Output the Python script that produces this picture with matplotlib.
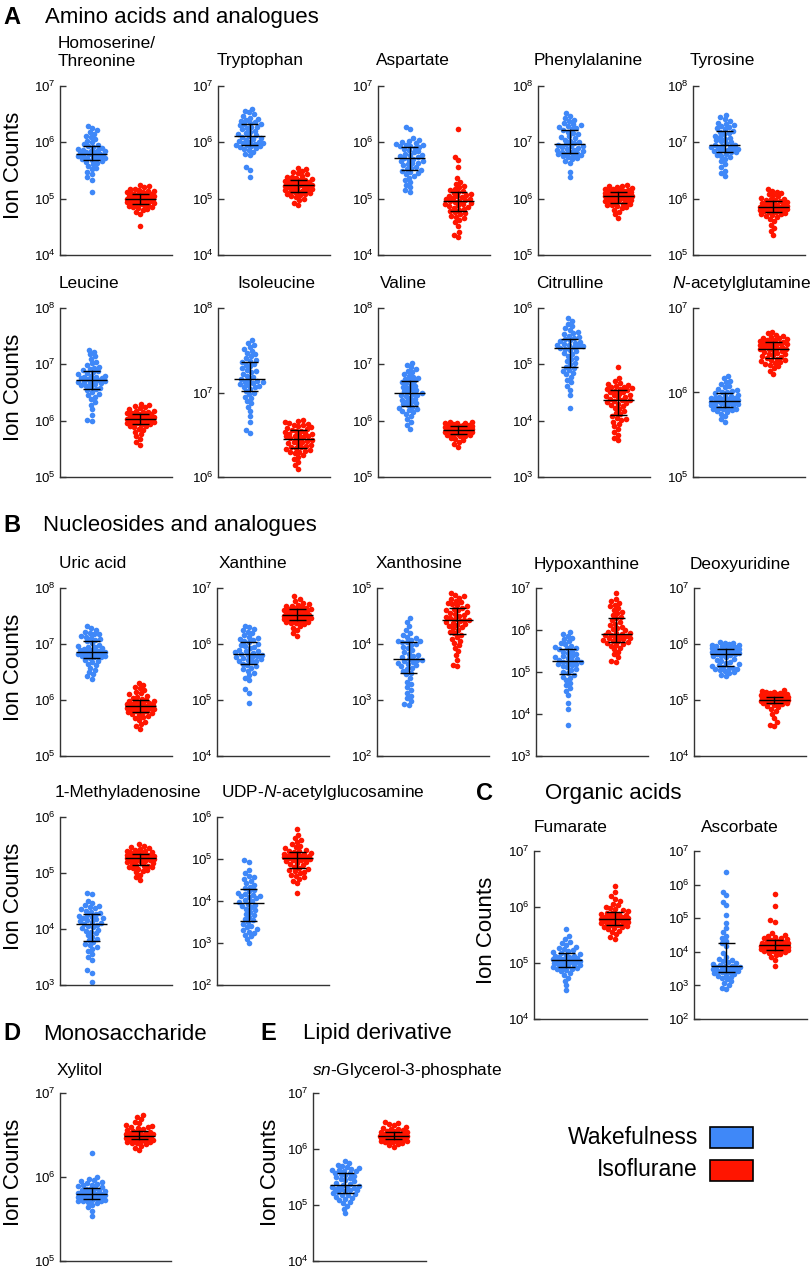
import numpy as np
import matplotlib
matplotlib.use("Agg")
import matplotlib.pyplot as plt
from matplotlib.patches import Rectangle
from matplotlib.ticker import NullLocator, FixedLocator, FuncFormatter

# ---------------- DATA (log10 ion counts) ----------------
homoserine_wake = [5.12, 5.34, 5.38, 5.43, 5.47, 5.52, 5.55, 5.58, 5.61, 5.63, 5.65, 5.67,
                   5.69, 5.70, 5.71, 5.72, 5.73, 5.74, 5.75, 5.76, 5.77, 5.77, 5.78, 5.79,
                   5.80, 5.81, 5.82, 5.83, 5.84, 5.85, 5.86, 5.87, 5.89, 5.90, 5.92, 5.93,
                   5.95, 5.97, 6.00, 6.03, 6.06, 6.09, 6.12, 6.15, 6.18, 6.22, 6.25, 6.29]
homoserine_iso = [4.52, 4.73, 4.77, 4.80, 4.82, 4.84, 4.85, 4.86, 4.87, 4.88, 4.89, 4.90,
                  4.91, 4.92, 4.93, 4.94, 4.95, 4.95, 4.96, 4.97, 4.97, 4.98, 4.99, 4.99,
                  5.00, 5.01, 5.02, 5.02, 5.03, 5.04, 5.05, 5.05, 5.06, 5.07, 5.08, 5.08,
                  5.09, 5.10, 5.11, 5.12, 5.13, 5.14, 5.15, 5.17, 5.18, 5.20, 5.22, 5.24]
tryptophan_wake = [5.38, 5.51, 5.57, 5.77, 5.80, 5.83, 5.86, 5.88, 5.90, 5.92, 5.93, 5.94,
                   5.95, 5.96, 5.97, 5.98, 5.99, 6.00, 6.01, 6.03, 6.05, 6.06, 6.08, 6.10,
                   6.11, 6.13, 6.15, 6.17, 6.19, 6.21, 6.23, 6.25, 6.27, 6.28, 6.30, 6.32,
                   6.33, 6.35, 6.36, 6.38, 6.40, 6.42, 6.44, 6.47, 6.50, 6.53, 6.56, 6.60]
tryptophan_iso = [4.89, 4.93, 4.97, 5.00, 5.03, 5.05, 5.07, 5.08, 5.09, 5.10, 5.11, 5.11,
                  5.12, 5.14, 5.15, 5.16, 5.17, 5.18, 5.19, 5.20, 5.21, 5.22, 5.23, 5.24,
                  5.24, 5.25, 5.26, 5.27, 5.27, 5.28, 5.29, 5.30, 5.31, 5.31, 5.32, 5.33,
                  5.34, 5.35, 5.36, 5.38, 5.39, 5.41, 5.43, 5.45, 5.47, 5.50, 5.52, 5.55]
aspartate_wake = [5.11, 5.15, 5.20, 5.25, 5.29, 5.33, 5.37, 5.40, 5.43, 5.45, 5.47, 5.49,
                  5.51, 5.53, 5.55, 5.57, 5.59, 5.61, 5.63, 5.64, 5.66, 5.67, 5.69, 5.71,
                  5.72, 5.74, 5.75, 5.77, 5.78, 5.80, 5.82, 5.84, 5.86, 5.88, 5.90, 5.92,
                  5.93, 5.94, 5.95, 5.96, 5.97, 5.98, 6.00, 6.02, 6.04, 6.07, 6.23, 6.28]
aspartate_iso = [4.32, 4.35, 4.40, 4.52, 4.58, 4.62, 4.65, 4.68, 4.70, 4.72, 4.74, 4.76,
                 4.78, 4.80, 4.82, 4.84, 4.85, 4.87, 4.88, 4.90, 4.91, 4.92, 4.94, 4.95,
                 4.96, 4.97, 4.99, 5.00, 5.01, 5.03, 5.04, 5.05, 5.07, 5.08, 5.10, 5.12,
                 5.14, 5.16, 5.18, 5.20, 5.23, 5.26, 5.30, 5.36, 5.57, 5.68, 5.74, 6.23]
phenylalanine_wake = [6.39, 6.48, 6.63, 6.67, 6.70, 6.72, 6.74, 6.75, 6.77, 6.78, 6.79, 6.80,
                      6.81, 6.82, 6.83, 6.84, 6.86, 6.87, 6.88, 6.90, 6.91, 6.93, 6.94, 6.96,
                      6.97, 6.99, 7.01, 7.03, 7.05, 7.07, 7.09, 7.11, 7.14, 7.16, 7.19, 7.22,
                      7.24, 7.26, 7.27, 7.29, 7.30, 7.32, 7.34, 7.37, 7.40, 7.43, 7.47, 7.52]
phenylalanine_iso = [5.66, 5.72, 5.76, 5.80, 5.83, 5.85, 5.87, 5.88, 5.89, 5.90, 5.91, 5.92,
                     5.93, 5.95, 5.96, 5.97, 5.98, 5.99, 6.00, 6.01, 6.02, 6.03, 6.03, 6.04,
                     6.05, 6.05, 6.06, 6.06, 6.07, 6.07, 6.08, 6.08, 6.09, 6.09, 6.10, 6.11,
                     6.12, 6.13, 6.14, 6.15, 6.16, 6.17, 6.18, 6.19, 6.20, 6.22, 6.23, 6.25]
tyrosine_wake = [6.40, 6.45, 6.50, 6.56, 6.62, 6.67, 6.71, 6.74, 6.76, 6.78, 6.80, 6.82,
                 6.83, 6.84, 6.85, 6.86, 6.87, 6.88, 6.89, 6.90, 6.91, 6.92, 6.94, 6.95,
                 6.96, 6.98, 7.00, 7.02, 7.04, 7.06, 7.08, 7.10, 7.12, 7.14, 7.16, 7.19,
                 7.21, 7.23, 7.25, 7.27, 7.29, 7.31, 7.33, 7.35, 7.38, 7.41, 7.45, 7.49]
tyrosine_iso = [5.35, 5.42, 5.48, 5.54, 5.60, 5.64, 5.67, 5.69, 5.71, 5.72, 5.73, 5.75,
                5.76, 5.77, 5.78, 5.79, 5.80, 5.80, 5.81, 5.82, 5.82, 5.83, 5.83, 5.84,
                5.85, 5.86, 5.86, 5.87, 5.88, 5.89, 5.90, 5.91, 5.92, 5.93, 5.94, 5.96,
                5.97, 5.98, 5.99, 6.00, 6.02, 6.04, 6.06, 6.08, 6.10, 6.12, 6.14, 6.17]
leucine_wake = [5.99, 6.02, 6.10, 6.20, 6.28, 6.33, 6.38, 6.42, 6.45, 6.48, 6.51, 6.54,
                6.56, 6.58, 6.60, 6.62, 6.63, 6.65, 6.66, 6.67, 6.68, 6.69, 6.71, 6.72,
                6.73, 6.74, 6.75, 6.76, 6.77, 6.78, 6.79, 6.80, 6.82, 6.84, 6.86, 6.88,
                6.90, 6.92, 6.94, 6.96, 6.99, 7.02, 7.05, 7.10, 7.14, 7.18, 7.22, 7.26]
leucine_iso = [5.57, 5.62, 5.67, 5.72, 5.76, 5.80, 5.83, 5.86, 5.88, 5.90, 5.91, 5.93,
               5.94, 5.95, 5.96, 5.97, 5.97, 5.98, 5.99, 5.99, 6.00, 6.01, 6.01, 6.02,
               6.03, 6.03, 6.04, 6.05, 6.06, 6.06, 6.07, 6.08, 6.09, 6.10, 6.11, 6.12,
               6.13, 6.14, 6.15, 6.16, 6.17, 6.18, 6.20, 6.22, 6.24, 6.26, 6.28, 6.30]
isoleucine_wake = [6.52, 6.56, 6.65, 6.72, 6.78, 6.83, 6.87, 6.90, 6.93, 6.95, 6.98, 7.00,
                   7.02, 7.04, 7.06, 7.07, 7.08, 7.09, 7.10, 7.11, 7.12, 7.13, 7.14, 7.15,
                   7.16, 7.18, 7.20, 7.22, 7.24, 7.25, 7.27, 7.29, 7.31, 7.33, 7.34, 7.36,
                   7.37, 7.39, 7.41, 7.43, 7.45, 7.47, 7.49, 7.51, 7.54, 7.56, 7.59, 7.62]
isoleucine_iso = [6.10, 6.14, 6.18, 6.21, 6.24, 6.26, 6.28, 6.29, 6.30, 6.31, 6.32, 6.33,
                  6.34, 6.35, 6.36, 6.37, 6.38, 6.39, 6.40, 6.41, 6.42, 6.43, 6.44, 6.45,
                  6.46, 6.47, 6.48, 6.48, 6.49, 6.50, 6.51, 6.51, 6.52, 6.53, 6.54, 6.55,
                  6.56, 6.57, 6.58, 6.59, 6.60, 6.61, 6.62, 6.63, 6.64, 6.65, 6.66, 6.67]
valine_wake = [5.85, 5.92, 5.98, 6.03, 6.08, 6.12, 6.15, 6.17, 6.19, 6.21, 6.23, 6.25,
               6.27, 6.29, 6.31, 6.33, 6.35, 6.37, 6.39, 6.41, 6.43, 6.45, 6.46, 6.48,
               6.49, 6.50, 6.52, 6.54, 6.56, 6.58, 6.60, 6.62, 6.64, 6.66, 6.68, 6.70,
               6.72, 6.74, 6.76, 6.78, 6.80, 6.83, 6.86, 6.89, 6.92, 6.95, 6.99, 7.03]
valine_iso = [5.53, 5.58, 5.62, 5.65, 5.68, 5.70, 5.72, 5.73, 5.74, 5.75, 5.76, 5.76,
              5.77, 5.78, 5.79, 5.79, 5.80, 5.81, 5.81, 5.82, 5.82, 5.83, 5.83, 5.84,
              5.84, 5.85, 5.85, 5.86, 5.86, 5.87, 5.87, 5.88, 5.88, 5.89, 5.89, 5.90,
              5.90, 5.91, 5.91, 5.92, 5.93, 5.93, 5.94, 5.95, 5.96, 5.96, 5.97, 5.98]
citrulline_wake = [4.23, 4.45, 4.55, 4.62, 4.68, 4.73, 4.78, 4.82, 4.85, 4.88, 4.90, 4.93,
                   4.96, 5.00, 5.03, 5.06, 5.09, 5.12, 5.15, 5.18, 5.20, 5.23, 5.25, 5.28,
                   5.29, 5.30, 5.32, 5.33, 5.34, 5.35, 5.36, 5.38, 5.39, 5.41, 5.43, 5.45,
                   5.47, 5.49, 5.51, 5.53, 5.55, 5.58, 5.61, 5.64, 5.68, 5.72, 5.77, 5.82]
citrulline_iso = [3.65, 3.70, 3.75, 3.80, 3.85, 3.90, 3.94, 3.98, 4.01, 4.03, 4.05, 4.08,
                  4.11, 4.14, 4.17, 4.20, 4.23, 4.26, 4.28, 4.30, 4.32, 4.33, 4.35, 4.36,
                  4.37, 4.39, 4.40, 4.42, 4.43, 4.45, 4.46, 4.48, 4.50, 4.51, 4.53, 4.55,
                  4.56, 4.57, 4.58, 4.59, 4.60, 4.62, 4.63, 4.65, 4.67, 4.70, 4.75, 4.95]
acetylglutamine_wake = [5.65, 5.69, 5.72, 5.75, 5.77, 5.78, 5.79, 5.80, 5.80, 5.81, 5.82, 5.82,
                        5.83, 5.84, 5.85, 5.85, 5.86, 5.87, 5.87, 5.88, 5.88, 5.89, 5.89, 5.90,
                        5.90, 5.91, 5.92, 5.92, 5.93, 5.94, 5.94, 5.95, 5.96, 5.96, 5.97, 5.99,
                        6.00, 6.01, 6.02, 6.03, 6.04, 6.06, 6.08, 6.10, 6.12, 6.14, 6.17, 6.20]
acetylglutamine_iso = [6.22, 6.26, 6.29, 6.31, 6.33, 6.34, 6.35, 6.36, 6.37, 6.38, 6.39, 6.40,
                       6.41, 6.42, 6.43, 6.44, 6.45, 6.46, 6.47, 6.48, 6.49, 6.50, 6.51, 6.52,
                       6.52, 6.53, 6.54, 6.54, 6.55, 6.56, 6.56, 6.57, 6.57, 6.58, 6.59, 6.60,
                       6.60, 6.61, 6.62, 6.62, 6.63, 6.64, 6.65, 6.66, 6.67, 6.68, 6.70, 6.72]
uric_wake = [6.38, 6.42, 6.46, 6.50, 6.54, 6.58, 6.62, 6.65, 6.68, 6.70, 6.72, 6.75,
             6.76, 6.77, 6.78, 6.79, 6.80, 6.81, 6.82, 6.83, 6.84, 6.84, 6.85, 6.86,
             6.87, 6.88, 6.89, 6.90, 6.91, 6.92, 6.94, 6.95, 6.97, 6.99, 7.01, 7.05,
             7.07, 7.09, 7.11, 7.13, 7.15, 7.17, 7.18, 7.20, 7.22, 7.25, 7.28, 7.33]
uric_iso = [5.48, 5.53, 5.57, 5.61, 5.65, 5.68, 5.70, 5.72, 5.74, 5.75, 5.77, 5.78,
            5.79, 5.80, 5.81, 5.82, 5.83, 5.84, 5.85, 5.85, 5.86, 5.87, 5.87, 5.88,
            5.89, 5.90, 5.91, 5.92, 5.93, 5.94, 5.95, 5.96, 5.97, 5.98, 5.99, 6.00,
            6.02, 6.04, 6.06, 6.08, 6.10, 6.12, 6.15, 6.18, 6.21, 6.24, 6.27, 6.31]
xanthine_wake = [4.95, 5.13, 5.19, 5.35, 5.40, 5.44, 5.48, 5.52, 5.55, 5.58, 5.60, 5.63,
                 5.65, 5.67, 5.69, 5.70, 5.72, 5.73, 5.75, 5.76, 5.77, 5.78, 5.80, 5.81,
                 5.82, 5.84, 5.85, 5.87, 5.88, 5.90, 5.92, 5.94, 5.96, 5.98, 6.00, 6.03,
                 6.05, 6.07, 6.09, 6.11, 6.13, 6.16, 6.19, 6.22, 6.25, 6.27, 6.30, 6.33]
xanthine_iso = [6.15, 6.20, 6.25, 6.29, 6.32, 6.35, 6.37, 6.38, 6.39, 6.40, 6.41, 6.42,
                6.43, 6.44, 6.45, 6.46, 6.46, 6.47, 6.48, 6.48, 6.49, 6.50, 6.50, 6.51,
                6.52, 6.53, 6.54, 6.54, 6.55, 6.56, 6.57, 6.58, 6.59, 6.60, 6.61, 6.62,
                6.63, 6.64, 6.65, 6.66, 6.67, 6.68, 6.70, 6.72, 6.74, 6.77, 6.81, 6.85]
xanthosine_wake = [2.91, 2.93, 2.98, 3.03, 3.08, 3.13, 3.18, 3.23, 3.28, 3.33, 3.40, 3.46,
                   3.49, 3.52, 3.55, 3.58, 3.60, 3.62, 3.64, 3.66, 3.68, 3.69, 3.71, 3.72,
                   3.74, 3.76, 3.78, 3.80, 3.83, 3.86, 3.89, 3.92, 3.95, 3.98, 4.00, 4.03,
                   4.04, 4.05, 4.06, 4.08, 4.10, 4.13, 4.16, 4.20, 4.25, 4.32, 4.40, 4.47]
xanthosine_iso = [3.60, 3.63, 3.72, 3.80, 3.87, 3.93, 3.98, 4.02, 4.06, 4.09, 4.12, 4.16,
                  4.19, 4.22, 4.25, 4.28, 4.30, 4.32, 4.34, 4.36, 4.38, 4.39, 4.41, 4.42,
                  4.43, 4.45, 4.46, 4.48, 4.50, 4.52, 4.54, 4.56, 4.58, 4.60, 4.61, 4.63,
                  4.65, 4.67, 4.69, 4.71, 4.73, 4.75, 4.77, 4.80, 4.83, 4.85, 4.88, 4.91]
hypoxanthine_wake = [3.75, 4.11, 4.27, 4.45, 4.55, 4.62, 4.68, 4.74, 4.80, 4.85, 4.89, 4.93,
                     4.97, 5.01, 5.05, 5.08, 5.11, 5.14, 5.16, 5.18, 5.20, 5.22, 5.23, 5.25,
                     5.27, 5.29, 5.31, 5.33, 5.35, 5.37, 5.39, 5.42, 5.45, 5.48, 5.51, 5.54,
                     5.56, 5.58, 5.60, 5.63, 5.66, 5.70, 5.74, 5.78, 5.82, 5.86, 5.91, 5.96]
hypoxanthine_iso = [5.25, 5.27, 5.35, 5.42, 5.48, 5.54, 5.58, 5.62, 5.65, 5.67, 5.69, 5.71,
                    5.73, 5.75, 5.77, 5.78, 5.80, 5.81, 5.83, 5.84, 5.86, 5.87, 5.88, 5.90,
                    5.92, 5.94, 5.96, 5.99, 6.02, 6.05, 6.08, 6.11, 6.15, 6.19, 6.23, 6.28,
                    6.32, 6.36, 6.40, 6.44, 6.48, 6.52, 6.56, 6.60, 6.64, 6.68, 6.75, 6.87]
deoxyuridine_wake = [5.42, 5.45, 5.48, 5.50, 5.52, 5.54, 5.55, 5.56, 5.57, 5.58, 5.59, 5.60,
                     5.62, 5.64, 5.66, 5.68, 5.70, 5.72, 5.74, 5.76, 5.78, 5.79, 5.81, 5.82,
                     5.83, 5.84, 5.84, 5.85, 5.86, 5.86, 5.87, 5.88, 5.88, 5.89, 5.90, 5.91,
                     5.92, 5.93, 5.94, 5.95, 5.96, 5.97, 5.98, 5.99, 6.00, 6.01, 6.02, 6.04]
deoxyuridine_iso = [4.53, 4.56, 4.60, 4.68, 4.75, 4.80, 4.84, 4.87, 4.89, 4.91, 4.92, 4.94,
                    4.95, 4.96, 4.96, 4.97, 4.97, 4.98, 4.98, 4.99, 4.99, 5.00, 5.00, 5.00,
                    5.01, 5.01, 5.02, 5.02, 5.03, 5.03, 5.04, 5.04, 5.05, 5.05, 5.06, 5.06,
                    5.07, 5.08, 5.09, 5.09, 5.10, 5.11, 5.12, 5.13, 5.14, 5.15, 5.16, 5.18]
methyladenosine_wake = [3.05, 3.22, 3.26, 3.45, 3.50, 3.55, 3.60, 3.64, 3.68, 3.71, 3.74, 3.77,
                        3.80, 3.83, 3.86, 3.89, 3.92, 3.95, 3.97, 3.99, 4.01, 4.03, 4.05, 4.08,
                        4.09, 4.11, 4.13, 4.14, 4.16, 4.17, 4.19, 4.20, 4.22, 4.23, 4.25, 4.27,
                        4.29, 4.31, 4.33, 4.35, 4.37, 4.39, 4.41, 4.43, 4.46, 4.50, 4.63, 4.65]
methyladenosine_iso = [4.87, 4.92, 4.97, 5.01, 5.04, 5.06, 5.08, 5.09, 5.10, 5.11, 5.12, 5.13,
                       5.15, 5.16, 5.18, 5.19, 5.20, 5.21, 5.22, 5.23, 5.24, 5.24, 5.25, 5.26,
                       5.26, 5.27, 5.28, 5.28, 5.29, 5.30, 5.30, 5.31, 5.31, 5.32, 5.33, 5.34,
                       5.35, 5.36, 5.37, 5.38, 5.39, 5.40, 5.41, 5.43, 5.44, 5.46, 5.48, 5.51]
udpglcnac_wake = [3.00, 3.10, 3.16, 3.20, 3.24, 3.27, 3.30, 3.33, 3.37, 3.41, 3.45, 3.50,
                  3.54, 3.58, 3.62, 3.66, 3.70, 3.74, 3.78, 3.81, 3.85, 3.88, 3.91, 3.94,
                  3.97, 4.00, 4.03, 4.06, 4.09, 4.11, 4.13, 4.15, 4.17, 4.20, 4.23, 4.27,
                  4.30, 4.34, 4.38, 4.42, 4.47, 4.52, 4.56, 4.60, 4.66, 4.75, 4.93, 4.98]
udpglcnac_iso = [4.19, 4.42, 4.47, 4.52, 4.56, 4.60, 4.63, 4.66, 4.69, 4.71, 4.73, 4.76,
                 4.79, 4.82, 4.85, 4.88, 4.91, 4.93, 4.95, 4.97, 4.98, 4.99, 5.01, 5.02,
                 5.03, 5.04, 5.05, 5.06, 5.07, 5.08, 5.09, 5.10, 5.12, 5.13, 5.14, 5.16,
                 5.18, 5.20, 5.22, 5.25, 5.28, 5.32, 5.36, 5.40, 5.45, 5.50, 5.58, 5.72]
fumarate_wake = [4.51, 4.60, 4.68, 4.74, 4.78, 4.82, 4.85, 4.87, 4.89, 4.90, 4.91, 4.92,
                 4.93, 4.94, 4.96, 4.97, 4.98, 4.99, 5.00, 5.01, 5.02, 5.02, 5.03, 5.04,
                 5.05, 5.06, 5.07, 5.08, 5.09, 5.10, 5.11, 5.12, 5.13, 5.14, 5.16, 5.18,
                 5.19, 5.21, 5.23, 5.25, 5.27, 5.29, 5.32, 5.35, 5.38, 5.42, 5.48, 5.61]
fumarate_iso = [5.43, 5.47, 5.51, 5.55, 5.58, 5.60, 5.62, 5.64, 5.65, 5.66, 5.67, 5.68,
                5.69, 5.70, 5.71, 5.72, 5.73, 5.74, 5.75, 5.75, 5.76, 5.77, 5.77, 5.78,
                5.79, 5.80, 5.81, 5.82, 5.83, 5.84, 5.85, 5.86, 5.87, 5.88, 5.89, 5.90,
                5.92, 5.94, 5.96, 5.98, 6.00, 6.03, 6.06, 6.10, 6.14, 6.20, 6.27, 6.38]
ascorbate_wake = [2.88, 2.92, 3.00, 3.06, 3.12, 3.18, 3.22, 3.26, 3.29, 3.32, 3.35, 3.37,
                  3.39, 3.41, 3.43, 3.44, 3.46, 3.47, 3.48, 3.50, 3.51, 3.52, 3.54, 3.55,
                  3.57, 3.59, 3.61, 3.63, 3.66, 3.69, 3.72, 3.76, 3.80, 3.86, 3.95, 4.17,
                  4.25, 4.32, 4.40, 4.48, 4.58, 4.70, 4.85, 5.10, 5.39, 5.48, 5.68, 5.78, 6.38]
ascorbate_iso = [3.57, 3.75, 3.85, 3.90, 3.94, 3.97, 3.99, 4.01, 4.02, 4.03, 4.04, 4.05,
                 4.07, 4.08, 4.10, 4.11, 4.12, 4.13, 4.14, 4.15, 4.16, 4.17, 4.18, 4.20,
                 4.21, 4.22, 4.23, 4.24, 4.25, 4.26, 4.27, 4.28, 4.30, 4.31, 4.33, 4.36,
                 4.38, 4.40, 4.42, 4.44, 4.46, 4.50, 4.55, 4.90, 4.95, 5.37, 5.71]
xylitol_wake = [5.54, 5.60, 5.64, 5.67, 5.69, 5.70, 5.71, 5.72, 5.72, 5.73, 5.73, 5.74,
                5.74, 5.75, 5.75, 5.76, 5.76, 5.77, 5.77, 5.77, 5.78, 5.78, 5.79, 5.79,
                5.80, 5.80, 5.81, 5.81, 5.82, 5.83, 5.83, 5.84, 5.85, 5.86, 5.86, 5.87,
                5.88, 5.89, 5.90, 5.91, 5.92, 5.93, 5.94, 5.95, 5.96, 5.98, 6.00, 6.28]
xylitol_iso = [6.32, 6.35, 6.37, 6.39, 6.40, 6.41, 6.42, 6.42, 6.43, 6.43, 6.44, 6.44,
               6.45, 6.45, 6.45, 6.46, 6.46, 6.46, 6.47, 6.47, 6.47, 6.48, 6.48, 6.48,
               6.49, 6.49, 6.50, 6.50, 6.51, 6.51, 6.52, 6.52, 6.53, 6.53, 6.54, 6.55,
               6.56, 6.57, 6.58, 6.59, 6.60, 6.61, 6.62, 6.64, 6.66, 6.69, 6.72, 6.74]
g3p_wake = [4.85, 4.93, 4.99, 5.03, 5.06, 5.09, 5.11, 5.13, 5.15, 5.17, 5.18, 5.20,
            5.22, 5.23, 5.25, 5.26, 5.27, 5.28, 5.29, 5.30, 5.31, 5.32, 5.33, 5.34,
            5.36, 5.38, 5.40, 5.42, 5.44, 5.46, 5.48, 5.50, 5.52, 5.53, 5.55, 5.57,
            5.58, 5.60, 5.61, 5.62, 5.63, 5.65, 5.66, 5.68, 5.70, 5.72, 5.75, 5.78]
g3p_iso = [6.04, 6.07, 6.09, 6.11, 6.12, 6.13, 6.14, 6.15, 6.15, 6.16, 6.16, 6.17,
           6.18, 6.18, 6.19, 6.19, 6.20, 6.20, 6.21, 6.21, 6.21, 6.22, 6.22, 6.22,
           6.23, 6.23, 6.24, 6.24, 6.25, 6.25, 6.26, 6.26, 6.27, 6.28, 6.29, 6.30,
           6.31, 6.32, 6.33, 6.34, 6.35, 6.36, 6.38, 6.40, 6.42, 6.44, 6.46, 6.49]

panel_titles = ["Homoserine/\nThreonine", "Tryptophan", "Aspartate", "Phenylalanine", "Tyrosine",
                "Leucine", "Isoleucine", "Valine", "Citrulline", r"$\mathit{N}$-acetylglutamine",
                "Uric acid", "Xanthine", "Xanthosine", "Hypoxanthine", "Deoxyuridine",
                "1-Methyladenosine", r"UDP-$\mathit{N}$-acetylglucosamine",
                "Fumarate", "Ascorbate", "Xylitol", r"$\mathit{sn}$-Glycerol-3-phosphate"]
# y-axis decades (low, high exponent)
decades = [(4, 7), (4, 7), (4, 7), (5, 8), (5, 8),
           (5, 8), (6, 8), (5, 8), (3, 6), (5, 7),
           (5, 8), (4, 7), (2, 5), (3, 7), (4, 7),
           (3, 6), (2, 6),
           (4, 7), (2, 7), (5, 7), (4, 7)]
wake_series = [homoserine_wake, tryptophan_wake, aspartate_wake, phenylalanine_wake, tyrosine_wake,
               leucine_wake, isoleucine_wake, valine_wake, citrulline_wake, acetylglutamine_wake,
               uric_wake, xanthine_wake, xanthosine_wake, hypoxanthine_wake, deoxyuridine_wake,
               methyladenosine_wake, udpglcnac_wake, fumarate_wake, ascorbate_wake,
               xylitol_wake, g3p_wake]
iso_series = [homoserine_iso, tryptophan_iso, aspartate_iso, phenylalanine_iso, tyrosine_iso,
              leucine_iso, isoleucine_iso, valine_iso, citrulline_iso, acetylglutamine_iso,
              uric_iso, xanthine_iso, xanthosine_iso, hypoxanthine_iso, deoxyuridine_iso,
              methyladenosine_iso, udpglcnac_iso, fumarate_iso, ascorbate_iso,
              xylitol_iso, g3p_iso]
group_labels = ["Wakefulness", "Isoflurane"]
section_letters = ["A", "B", "C", "D", "E"]
section_titles = ["Amino acids and analogues", "Nucleosides and analogues", "Organic acids",
                  "Monosaccharide", "Lipid derivative"]

# ---------------- STYLE / LAYOUT ----------------
BLUE = "#3f88f8"
RED = "#ff1500"
W, H = 810, 1271
plt.rcParams["font.family"] = ["Liberation Sans", "DejaVu Sans"]
plt.rcParams["mathtext.fontset"] = "custom"
plt.rcParams["mathtext.rm"] = "Liberation Sans"
plt.rcParams["mathtext.it"] = "Liberation Sans:italic"
plt.rcParams["mathtext.bf"] = "Liberation Sans:bold"

fig = plt.figure(figsize=(W / 100, H / 100), dpi=100)

def fx(px):
    return px / W

def fy(py):
    return 1 - py / H

# (left, top, width, height, title_x, title_y, ylabel_x)
layout = []
for i, l in enumerate([60, 218, 378, 538, 693]):
    layout.append((l, 86, 112, 169, [None, 260, 413, 588, 722][i], 61, 14 if i == 0 else None))
for i, l in enumerate([60, 218, 378, 538, 693]):
    layout.append((l, 308, 112, 169, [89, 276, 403, 570, 742][i], 284, 14 if i == 0 else None))
for i, l in enumerate([60, 217, 377, 536, 694]):
    layout.append((l, 588, 112, 168, [93, 253, 419, 587, 740][i], 564, 14 if i == 0 else None))
for i, l in enumerate([60, 217]):
    layout.append((l, 817, 112, 168, [128, 323][i], 793, 14 if i == 0 else None))
for i, l in enumerate([534, 694]):
    layout.append((l, 851, 113, 168, [571, 740][i], 827, 486 if i == 0 else None))
layout.append((60, 1093, 111, 168, 80, 1070, 14))
layout.append((313, 1093, 113, 168, 407, 1070, 271))

XPOS = (0.285, 0.715)
DOT = 5.6          # dot diameter in px
SEP = 4.6          # preferred centre spacing in px (dots may overlap a little)
MAXW = 13.5        # max horizontal offset of dot centres in px
MED_HALF = 15.5    # px
CAP_HALF = 8.5     # px


def swarm_offsets(ypix, d, maxw):
    order = np.argsort(ypix)
    placed = []
    offs = np.zeros(len(ypix))
    grid = np.arange(-maxw, maxw + 1e-9, 0.5)
    gkey = np.abs(grid)
    for i in order:
        y = ypix[i]
        nb = [(px, py) for px, py in placed if abs(py - y) < d]
        if nb:
            nb = np.array(nb)
            dist = np.sqrt((grid[:, None] - nb[None, :, 0]) ** 2 + (y - nb[None, :, 1]) ** 2)
            mind = dist.min(axis=1)
            ok = mind >= d - 1e-6
            if ok.any():
                c = grid[ok][np.argmin(gkey[ok])]
            else:
                best = mind.max()
                sel = mind >= best - 0.05
                c = grid[sel][np.argmin(gkey[sel])]
        else:
            c = 0.0
        offs[i] = c
        placed.append((c, y))
    return offs


def draw_group(ax, logvals, xc, color, axw):
    vals = 10.0 ** np.asarray(logvals)
    pts = ax.transData.transform(np.column_stack([np.full(len(vals), xc), vals]))
    offs = swarm_offsets(pts[:, 1], SEP, MAXW)
    xs = xc + offs / axw
    ax.scatter(xs, vals, s=(DOT * 0.72) ** 2, color=color, linewidths=0, zorder=2, clip_on=False)
    q1, med, q3 = np.percentile(np.asarray(logvals), [25, 50, 75])
    q1, med, q3 = 10 ** q1, 10 ** med, 10 ** q3
    mh, ch = MED_HALF / axw, CAP_HALF / axw
    ax.plot([xc - mh, xc + mh], [med, med], color="black", lw=1.0, zorder=3, solid_capstyle="butt")
    ax.plot([xc, xc], [q1, q3], color="black", lw=1.0, zorder=3)
    ax.plot([xc - ch, xc + ch], [q1, q1], color="black", lw=1.0, zorder=3, solid_capstyle="butt")
    ax.plot([xc - ch, xc + ch], [q3, q3], color="black", lw=1.0, zorder=3, solid_capstyle="butt")


def tick_fmt(v, pos):
    return r"$\mathregular{10^{%d}}$" % int(round(np.log10(v)))


for k, (l, t, w, h, tx, ty, ylx) in enumerate(layout):
    ax = fig.add_axes([fx(l), fy(t + h), w / W, h / H])
    lo, hi = decades[k]
    ax.set_yscale("log")
    ax.set_ylim(10 ** lo, 10 ** hi)
    ax.set_xlim(0, 1)
    ax.yaxis.set_major_locator(FixedLocator([10.0 ** e for e in range(lo, hi + 1)]))
    ax.yaxis.set_minor_locator(NullLocator())
    ax.yaxis.set_major_formatter(FuncFormatter(tick_fmt))
    ax.set_xticks([])
    for s in ("top", "right"):
        ax.spines[s].set_visible(False)
    for s in ("left", "bottom"):
        ax.spines[s].set_color("#333333")
        ax.spines[s].set_linewidth(1.0)
    ax.tick_params(axis="y", direction="in", length=4.5, width=1.0, color="#333333",
                   labelsize=9.5, pad=3)
    ax.patch.set_alpha(0)
    draw_group(ax, wake_series[k], XPOS[0], BLUE, w)
    draw_group(ax, iso_series[k], XPOS[1], RED, w)
    if tx is None:
        lines = panel_titles[k].split("\n")
        fig.text(fx(58), fy(43), lines[0], ha="left", va="center", fontsize=12.4)
        fig.text(fx(58), fy(61), lines[1], ha="left", va="center", fontsize=12.4)
    else:
        fig.text(fx(tx), fy(ty), panel_titles[k], ha="center", va="center", fontsize=12.4)
    if ylx is not None:
        fig.text(fx(ylx), fy(t + h / 2 - 5), "Ion Counts", rotation=90, ha="center",
                 va="center", fontsize=16)

# section headings
sec_pos = [(3, 45, 17), (3, 43, 525), (476, 545, 794), (3, 43, 1034), (260, 303, 1034)]
for (lx, tx, y), letter, title in zip(sec_pos, section_letters, section_titles):
    fig.text(fx(lx), fy(y), letter, ha="left", va="center", fontsize=17, fontweight="bold")
    fig.text(fx(tx), fy(y), title, ha="left", va="center", fontsize=16)

# legend
for (lab, col, yc) in zip(group_labels, [BLUE, RED], [1137.5, 1170]):
    fig.text(fx(698), fy(yc), lab, ha="right", va="center", fontsize=16.5)
    fig.add_artist(Rectangle((fx(710), fy(yc + 10.5)), 43 / W, 21 / H, transform=fig.transFigure,
                             facecolor=col, edgecolor="black", linewidth=1.2))

fig.savefig("out.png", dpi=100)
